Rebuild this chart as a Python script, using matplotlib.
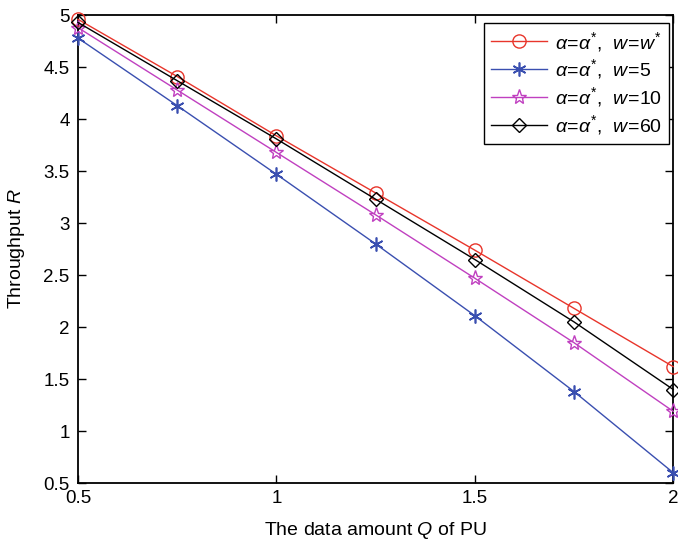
import numpy as np
import matplotlib.pyplot as plt

plt.rcParams['font.family'] = ['Liberation Sans', 'DejaVu Sans']
plt.rcParams['mathtext.fontset'] = 'custom'
plt.rcParams['mathtext.rm'] = 'Liberation Sans'
plt.rcParams['mathtext.it'] = 'Liberation Sans:italic'
plt.rcParams['mathtext.bf'] = 'Liberation Sans:bold'

# data
q = [0.5, 0.75, 1.0, 1.25, 1.5, 1.75, 2.0]
r_opt = [4.96, 4.41, 3.84, 3.29, 2.74, 2.18, 1.62]
r_w5 = [4.78, 4.13, 3.47, 2.80, 2.11, 1.38, 0.60]
r_w10 = [4.88, 4.28, 3.68, 3.08, 2.47, 1.85, 1.19]
r_w60 = [4.93, 4.37, 3.81, 3.23, 2.65, 2.05, 1.40]

labels = [r'$\alpha\!=\!\alpha^{*}$,  $w\!=\!w^{*}$',
          r'$\alpha\!=\!\alpha^{*}$,  $w\!=\!5$',
          r'$\alpha\!=\!\alpha^{*}$,  $w\!=\!10$',
          r'$\alpha\!=\!\alpha^{*}$,  $w\!=\!60$']

fig = plt.figure(figsize=(6.78, 5.41), dpi=100)
ax = fig.add_axes([0.115, 0.107, 0.878, 0.865])

kw = dict(lw=1.0, clip_on=False, zorder=3)
ax.plot(q, r_opt, color='#e8352b', marker='o', ms=9.5, mfc='none', mec='#e8352b', mew=1.0, label=labels[0], **kw)
ax.plot(q, r_w5, color='#3a4fb0', marker=(6, 2, 0), ms=10, mec='#3a4fb0', mew=1.2, label=labels[1], **kw)
ax.plot(q, r_w10, color='#c040c0', marker='*', ms=11, mfc='none', mec='#c040c0', mew=1.0, label=labels[2], **kw)
ax.plot(q, r_w60, color='black', marker='D', ms=7, mfc='none', mec='black', mew=1.0, label=labels[3], **kw)

ax.set_xlim(0.5, 2)
ax.set_ylim(0.5, 5)
ax.set_xticks([0.5, 1, 1.5, 2])
ax.set_xticklabels(['0.5', '1', '1.5', '2'])
ax.set_yticks(np.arange(0.5, 5.01, 0.5))
ax.set_yticklabels(['0.5', '1', '1.5', '2', '2.5', '3', '3.5', '4', '4.5', '5'])
ax.tick_params(direction='in', top=True, right=True, labelsize=13.5, length=6, width=1)
ax.tick_params(axis='x', pad=5)
ax.tick_params(axis='y', pad=6)
for s in ax.spines.values():
    s.set_linewidth(1.3)

ax.set_xlabel('The data amount $Q$ of PU', fontsize=14, labelpad=9)
ax.set_ylabel('Throughput $R$', fontsize=14, labelpad=12)

leg = ax.legend(loc='upper right', bbox_to_anchor=(669 / 678, 1 - 23 / 541),
                bbox_transform=fig.transFigure, fontsize=14, handlelength=2.9,
                fancybox=False, framealpha=1, edgecolor='black', borderaxespad=0,
                labelspacing=0.2, handletextpad=0.4, borderpad=0.35)
leg.get_frame().set_linewidth(1.0)

fig.savefig('out.png', dpi=100)
